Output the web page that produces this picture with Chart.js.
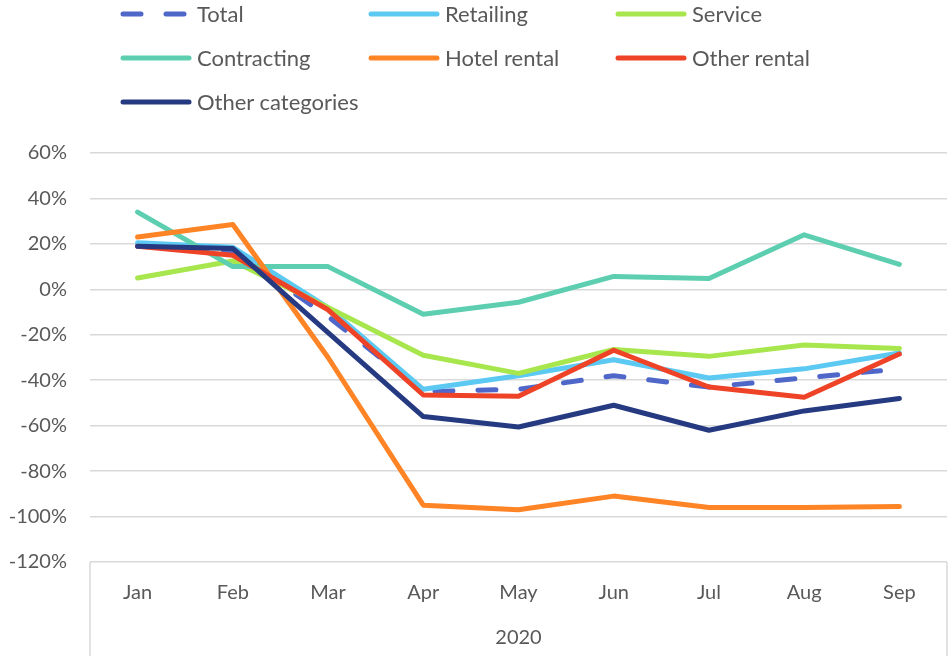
<!DOCTYPE html>
<html>
<head>
<meta charset="utf-8">
<script src="https://cdn.jsdelivr.net/npm/chart.js@4/dist/chart.umd.min.js"></script>
<style>
  html, body { margin: 0; padding: 0; background: #fff; }
  #wrap { position: relative; width: 949px; height: 656px; }
  #legend { position: absolute; left: 0; top: 0; width: 949px; height: 130px; font-family: Lato, sans-serif; font-size: 22px; color: #595959; }
  .item { position: absolute; height: 26px; line-height: 26px; white-space: nowrap; }
  .item canvas { position: absolute; left: 0; top: 1px; }
  .item span { position: absolute; left: 77px; top: 0; }
</style>
</head>
<body>
<div id="wrap">
  <canvas id="c" width="949" height="656"></canvas>
  <div id="legend"></div>
</div>
<script>
const months = ["Jan", "Feb", "Mar", "Apr", "May", "Jun", "Jul", "Aug", "Sep"];
const yearLabel = "2020";
const seriesNames = ["Total", "Retailing", "Service", "Contracting", "Hotel rental", "Other rental", "Other categories"];
const total        = [19, 17, -12, -45, -44, -38, -43, -39, -35];
const retailing    = [20.5, 18.5, -8, -44, -38, -31, -39, -35, -28];
const service      = [5, 12.5, -8, -29, -37, -26.5, -29.5, -24.5, -26];
const contracting  = [34, 10, 10, -11, -5.7, 5.7, 4.8, 24, 11];
const hotelRental  = [23, 28.5, -30, -95, -97, -91, -96, -96, -95.6];
const otherRental  = [19, 15, -9, -46.5, -47, -26.8, -43, -47.5, -28.5];
const otherCats    = [19, 18, -19, -56, -60.6, -51, -62, -53.5, -48];

const colors = ["#4F67C9", "#5BC9F2", "#A8E64E", "#5DCFB0", "#FF8426", "#EE4326", "#263A82"];
const values = [total, retailing, service, contracting, hotelRental, otherRental, otherCats];

const datasets = seriesNames.map((name, i) => ({
  label: name,
  data: values[i],
  borderColor: colors[i],
  backgroundColor: colors[i],
  borderWidth: 5,
  borderCapStyle: 'round',
  borderJoinStyle: 'round',
  borderDash: i === 0 ? [18, 25] : [],
  pointRadius: 0,
  pointHoverRadius: 0,
  tension: 0,
  fill: false,
  order: seriesNames.length - i
}));

const boxPlugin = {
  id: 'catBox',
  afterDraw(chart) {
    const ctx = chart.ctx, a = chart.chartArea;
    ctx.save();
    ctx.strokeStyle = '#d9d9d9';
    ctx.lineWidth = 1.5;
    ctx.beginPath();
    ctx.moveTo(a.left, a.bottom); ctx.lineTo(a.left, chart.height);
    ctx.moveTo(a.right, a.bottom); ctx.lineTo(a.right, chart.height);
    ctx.stroke();
    ctx.restore();
  }
};

const FONT = { family: 'Lato, sans-serif', size: 20 };
Chart.defaults.color = '#595959';

const chart = new Chart(document.getElementById('c'), {
  type: 'line',
  data: { labels: months, datasets },
  options: {
    responsive: false,
    animation: false,
    events: [],
    layout: { padding: { top: 153, right: 2, left: 0, bottom: 0 } },
    plugins: { legend: { display: false }, tooltip: { enabled: false } },
    scales: {
      y: {
        min: -120, max: 60,
        ticks: { stepSize: 20, font: FONT, color: '#595959', padding: 23,
                 callback: v => v + '%' },
        grid: { color: '#d9d9d9', lineWidth: 1.5, drawTicks: false },
        border: { display: false },
        afterFit(s) { s.width = 90; }
      },
      x: {
        offset: true,
        ticks: { font: FONT, color: '#595959', padding: 19, maxRotation: 0, autoSkip: false },
        grid: { display: false, drawTicks: false },
        border: { display: false },
        title: { display: true, text: yearLabel, font: FONT, color: '#595959', padding: { top: 0, bottom: 6 } },
        afterFit(s) { s.height = 94; }
      }
    }
  },
  plugins: [boxPlugin]
});

// HTML legend (3 columns)
const legend = document.getElementById('legend');
const colX = [120, 368, 615];
const rowY = [1, 45, 89];
seriesNames.forEach((name, i) => {
  const d = document.createElement('div');
  d.className = 'item';
  d.style.left = colX[i % 3] + 'px';
  d.style.top = rowY[Math.floor(i / 3)] + 'px';
  const cv = document.createElement('canvas');
  cv.width = 72; cv.height = 24;
  const g = cv.getContext('2d');
  g.strokeStyle = colors[i];
  g.lineWidth = 5;
  g.lineCap = 'round';
  if (i === 0) g.setLineDash([18, 25]);
  g.beginPath(); g.moveTo(3, 12); g.lineTo(69, 12); g.stroke();
  const sp = document.createElement('span');
  sp.textContent = name;
  d.appendChild(cv); d.appendChild(sp);
  legend.appendChild(d);
});
</script>
</body>
</html>
